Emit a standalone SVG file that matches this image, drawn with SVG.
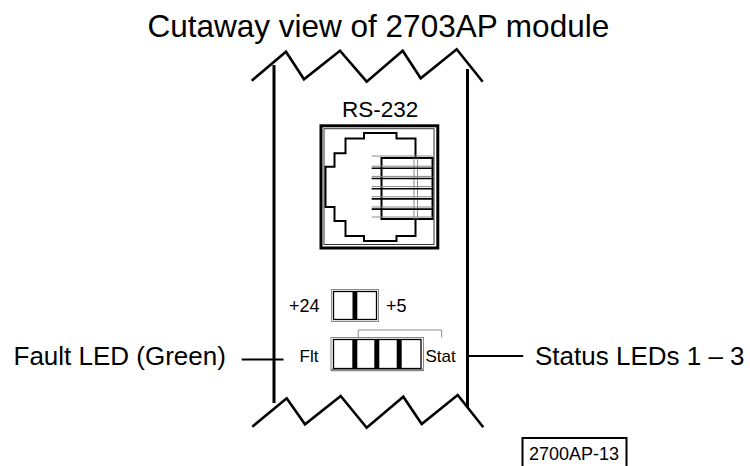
<svg xmlns="http://www.w3.org/2000/svg" width="750" height="466" viewBox="0 0 750 466">
<style>
text{font-family:"Liberation Sans",Arial,sans-serif;fill:#000}
.wall{stroke:#000;stroke-width:3;fill:none}
.zig{stroke:#000;stroke-width:2.6;fill:none;stroke-linejoin:miter}
.gray{stroke:#8a8a8a;stroke-width:1;fill:none}
.blk{stroke:#000;fill:none}
.bar{fill:#000}
.lead{stroke:#000;stroke-width:2.2}
</style>
<rect width="750" height="466" fill="#fff"/>
<text x="147.5" y="37" font-size="31.5">Cutaway view of 2703AP module</text>

<g id="module">
<polyline class="zig" points="251.7,80.7 286,51.7 304,79.3 340,50.7 366.7,81.7 402.7,50.7 420.7,78.3 456.7,49.3 482.7,81.7"/>
<polyline class="zig" points="252.3,426.7 286.7,398.3 305,424.3 340.7,396 366.7,427.7 403.3,396.7 421.7,424 457.7,395 483.3,427.3"/>
<line class="wall" x1="274" y1="65" x2="274" y2="403"/>
<line class="wall" x1="467.5" y1="69" x2="467.5" y2="407"/>
</g>

<g id="rs232">
<text x="342" y="116.5" font-size="22.5">RS-232</text>
<rect class="blk" x="321" y="125.8" width="116.8" height="122.2" stroke-width="3"/>
<rect x="324" y="128.7" width="110" height="115.8" fill="none" stroke="#333" stroke-width="1"/>
<path class="blk" stroke-width="2" d="M415.5,158 V138.5 H396.5 V133 H364 V138.5 H345.5 V153.3 H334.5 V166.7 H325.5 V207 H334.5 V221 H345.5 V236 H364 V241 H396.5 V236 H415.5 V219"/>
<rect class="blk" x="381.5" y="158" width="51" height="61" stroke-width="2"/>
<g stroke="#8a8a8a" stroke-width="1">
<line x1="414" y1="158" x2="414" y2="219"/>
<line x1="417.5" y1="158" x2="417.5" y2="219"/>
</g>
<g stroke="#888" stroke-width="1">
<line x1="371.7" y1="156" x2="432.5" y2="156"/>
<line x1="371.7" y1="166.2" x2="432.5" y2="166.2"/>
<line x1="371.7" y1="176.4" x2="432.5" y2="176.4"/>
<line x1="371.7" y1="186.6" x2="432.5" y2="186.6"/>
<line x1="371.7" y1="196.8" x2="432.5" y2="196.8"/>
<line x1="371.7" y1="207" x2="432.5" y2="207"/>
<line x1="371.7" y1="217" x2="432.5" y2="217"/>
</g>
<g stroke="#000" stroke-width="1.6">
<line x1="371.7" y1="168.3" x2="432.5" y2="168.3"/>
<line x1="371.7" y1="178.5" x2="432.5" y2="178.5"/>
<line x1="371.7" y1="188.7" x2="432.5" y2="188.7"/>
<line x1="371.7" y1="198.9" x2="432.5" y2="198.9"/>
<line x1="371.7" y1="209.1" x2="432.5" y2="209.1"/>
</g>
</g>

<g id="jumper">
<text x="319.5" y="312" font-size="18" text-anchor="end">+24</text>
<text x="386" y="312" font-size="18">+5</text>
<rect class="gray" x="331.5" y="289.5" width="47" height="32"/>
<rect class="blk" stroke-width="1.3" x="333.5" y="291.5" width="43" height="28"/>
<rect class="bar" x="352.5" y="291.5" width="4.8" height="28"/>
</g>

<g id="leds">
<text x="318.5" y="361.5" font-size="17" text-anchor="end">Flt</text>
<text x="425.5" y="361.5" font-size="17">Stat</text>
<polyline class="gray" points="358.3,337.5 358.3,330 441.7,330 441.7,337.5"/>
<rect class="gray" x="331" y="337.5" width="92.5" height="33"/>
<line x1="331" y1="370" x2="423.5" y2="370" stroke="#8a8a8a" stroke-width="2.5"/>
<rect class="blk" stroke-width="1.3" x="333.5" y="339.5" width="87.5" height="29"/>
<rect class="bar" x="352.3" y="339.5" width="5" height="29"/>
<rect class="bar" x="374.3" y="339.5" width="5" height="29"/>
<rect class="bar" x="396.7" y="339.5" width="5" height="29"/>
</g>

<g id="connectors">
<line class="lead" x1="241.7" y1="359.5" x2="283.5" y2="359.5"/>
<line class="lead" x1="466" y1="356" x2="523.3" y2="356"/>
</g>

<g id="fault-label"><text x="13.5" y="364.5" font-size="26">Fault LED (Green)</text></g>
<g id="status-label"><text x="535" y="364.5" font-size="26">Status LEDs 1 – 3</text></g>

<g id="figure-id">
<rect x="522.5" y="438" width="104" height="40" fill="none" stroke="#000" stroke-width="2"/>
<text x="529" y="459.5" font-size="18">2700AP-13</text>
</g>
</svg>
